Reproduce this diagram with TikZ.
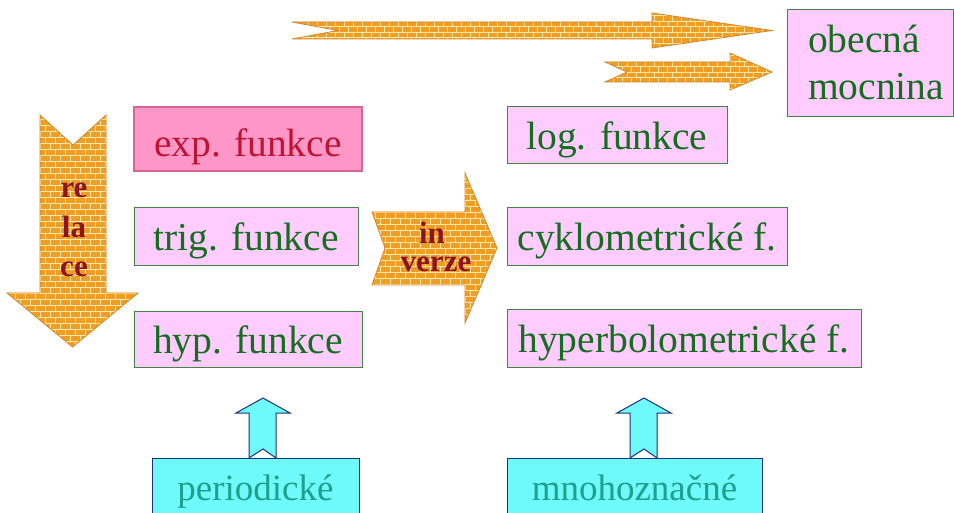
\documentclass[tikz,border=0pt]{standalone}
\usepackage{fontspec}
\setmainfont{Liberation Serif}
\definecolor{pinkfill}{RGB}{255,204,255}
\definecolor{boxgreen}{RGB}{70,130,70}
\definecolor{textgreen}{RGB}{20,110,30}
\definecolor{expfill}{RGB}{255,150,200}
\definecolor{expedge}{RGB}{150,30,60}
\definecolor{exptext}{RGB}{190,20,50}
\definecolor{cyanfill}{RGB}{110,250,250}
\definecolor{cyanedge}{RGB}{30,50,120}
\definecolor{cyantext}{RGB}{30,160,140}
\definecolor{brickcol}{RGB}{240,158,35}
\definecolor{mortarcol}{RGB}{255,232,170}
\definecolor{brickedgecol}{RGB}{210,135,45}
\definecolor{boldred}{RGB}{140,20,30}
\newcommand\brickshape[7]{%
\begin{scope}
\clip #1;
\fill[brickcol] (#2,#3) rectangle (#4,#5);
\pgfmathtruncatemacro\nrows{(#5-#3)/#7+1}
\pgfmathtruncatemacro\ncols{(#4-#2)/#6+1}
\foreach \r in {0,...,\nrows}{%
  \pgfmathsetmacro\yy{#3+\r*#7}
  \pgfmathsetmacro\off{mod(\r,2)*#6/2}
  \draw[mortar] (#2,\yy) -- (#4,\yy);
  \foreach \c in {-1,...,\ncols}{%
    \pgfmathsetmacro\xx{#2+\c*#6+\off}
    \draw[mortar] (\xx,\yy) -- (\xx,\yy+#7);
  }
}
\end{scope}
\draw[brickedge] #1;
}
\tikzset{
  mortar/.style={draw=mortarcol, line width=0.9pt},
  brickedge/.style={draw=brickedgecol, line width=0.8pt, line join=miter},
  pinkbox/.style={draw=boxgreen, line width=1pt, fill=pinkfill, text=textgreen,
    font=\fontsize{39.5}{45}\selectfont, text height=29.6pt, text depth=1.6pt,
    inner sep=0pt, outer sep=0pt},
  expbox/.style={draw=expedge, line width=0.8pt, double=expfill!60!expedge, double distance=1.2pt,
    fill=expfill, text=exptext,
    font=\fontsize{39.5}{45}\selectfont, text height=37pt, text depth=1pt,
    inner sep=0pt, outer sep=0pt},
  cyanbox/.style={draw=cyanedge, line width=1pt, fill=cyanfill, text=cyantext,
    font=\fontsize{37}{42}\selectfont, text height=30pt, text depth=18pt,
    inner sep=0pt, outer sep=0pt},
  uparrow/.style={draw=cyanedge, line width=1pt, fill=cyanfill, line join=miter},
  boldlabel/.style={text=boldred, font=\bfseries\fontsize{31}{31}\selectfont,
    inner sep=0pt, anchor=base},
  gtext/.style={text=textgreen, font=\fontsize{39.5}{45}\selectfont, inner sep=0pt, anchor=base west}
}
\begin{document}
\begin{tikzpicture}[x=1pt,y=-1pt]
\useasboundingbox (0,0) rectangle (954,513);
\fill[white] (0,0) rectangle (954,513);

% brick arrows
\brickshape{(292,22) -- (652,22) -- (652,13) -- (772,30.5) -- (652,48) -- (652,39) -- (292,39) -- (338,30.5) -- cycle}{290}{10}{775}{50}{9}{5.5}
\brickshape{(605,62) -- (730,62) -- (730,53) -- (772,72) -- (730,90) -- (730,82) -- (605,82) -- (627,72) -- cycle}{600}{50}{775}{92}{9}{5.5}
\brickshape{(40,115) -- (73,145) -- (106,115) -- (106,293) -- (138,293) -- (72.5,347) -- (7,293) -- (40,293) -- cycle}{5}{113}{140}{350}{10}{6}
\brickshape{(372,212) -- (465,212) -- (465,173) -- (497,248) -- (465,323) -- (465,285) -- (372,285) -- (385,248) -- cycle}{370}{170}{500}{325}{10}{6}

\node[boldlabel] (re) at (74,198) {re};
\node[boldlabel] (la) at (74,238) {la};
\node[boldlabel] (ce) at (74,277) {ce};
\node[boldlabel] (in) at (432,244) {in};
\node[boldlabel] (verze) at (436,272) {verze};

% boxes
\node[expbox, minimum width=228pt, minimum height=64pt] (exp) at (248,139) {exp. funkce};
\node[pinkbox, minimum width=224pt, minimum height=58pt] (trig) at (246,237) {trig. funkce};
\node[pinkbox, minimum width=228pt, minimum height=56pt] (hyp) at (248,339.5) {hyp. funkce};
\node[pinkbox, minimum width=220pt, minimum height=57pt] (log) at (617,135.5) {log. funkce};
\node[pinkbox, minimum width=280pt, minimum height=58pt] (cyklo) at (647,237) {cyklometrické f.};
\node[pinkbox, minimum width=354pt, minimum height=57pt] (hyperb) at (684,338.5) {hyperbolometrické f.};
\node[pinkbox, minimum width=166pt, minimum height=107pt] (obecna) at (870,63.5) {};
\node[gtext] (obecna1) at (808,53) {obecná};
\node[gtext] (obecna2) at (808,100) {mocnina};

% up arrows and cyan boxes
\draw[uparrow] (236,413) -- (263,398) -- (290,413) -- (276,413) -- (276,458) -- (263,449) -- (249,458) -- (249,413) -- cycle;
\draw[uparrow] (617,413) -- (644,398) -- (671,413) -- (657,413) -- (657,458) -- (644,449) -- (630,458) -- (630,413) -- cycle;
\node[cyanbox, minimum width=207pt, minimum height=72pt] (period) at (255.5,494) {periodické};
\node[cyanbox, minimum width=255pt, minimum height=72pt] (mnoho) at (634.5,494) {mnohoznačné};
\end{tikzpicture}
\end{document}
